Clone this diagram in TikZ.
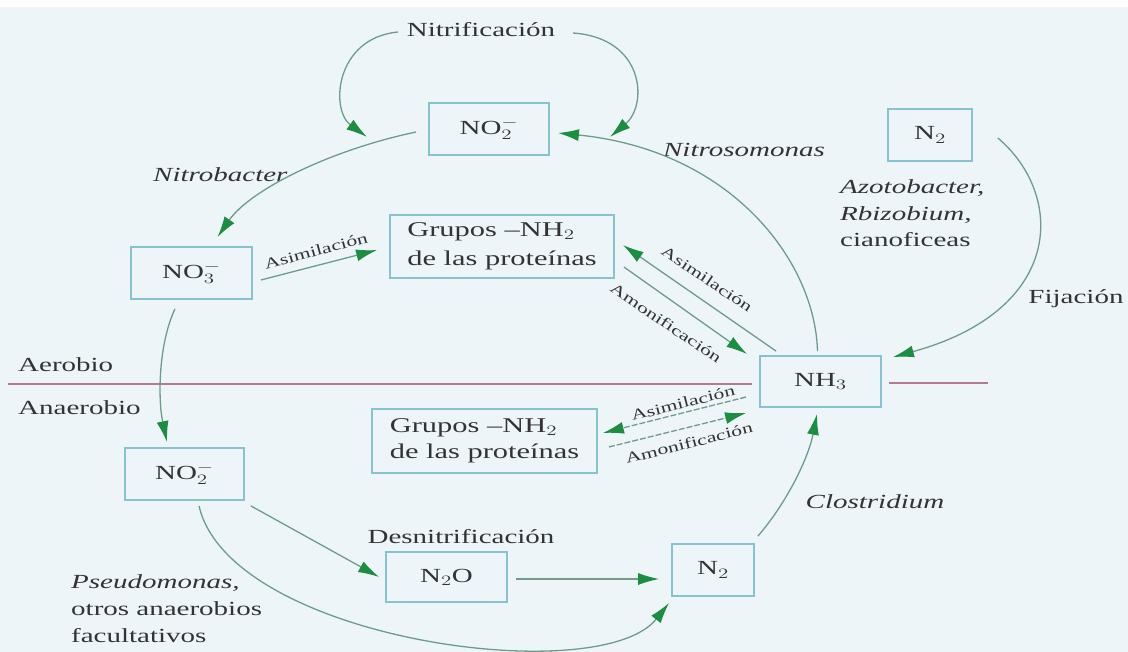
\documentclass[tikz,border=0pt]{standalone}
\usepackage{fontspec}
\setmainfont{Liberation Serif}
\usetikzlibrary{arrows.meta,calc}
\definecolor{bgc}{HTML}{EEF5F9}
\definecolor{boxc}{HTML}{86C3CC}
\definecolor{linec}{HTML}{6E9C88}
\definecolor{arrc}{HTML}{1B8E42}
\definecolor{txtc}{HTML}{333333}
\definecolor{aerc}{HTML}{B27B93}
\newcommand\sx[1]{\scalebox{1.45}[1]{#1}}
\begin{document}
\begin{tikzpicture}[x=1pt,y=-1pt,
  box/.style={draw=boxc,line width=1.8pt,fill=bgc,inner sep=0pt,text=txtc,font=\fontsize{20}{24}\selectfont},
  gbox/.style={box,align=left,font=\fontsize{21}{29}\selectfont},
  lab/.style={text=txtc,inner sep=0pt,font=\fontsize{20}{27}\selectfont},
  ilab/.style={text=txtc,inner sep=0pt,font=\fontsize{20}{27}\selectfont\itshape},
  slab/.style={text=txtc,inner sep=0pt,font=\fontsize{15}{18}\selectfont},
  conn/.style={draw=linec,line width=1.3pt,-{Latex[length=21pt,width=12pt,color=arrc]}},
  divline/.style={draw=aerc,line width=1.4pt}]
\useasboundingbox (0,0) rectangle (1128,652);
\fill[white] (0,0) rectangle (1128,652);
\fill[bgc] (0,7) rectangle (1128,652);

% boxes
\node[box,minimum width=120pt,minimum height=52pt] (no2t) at (489,129) {\sx{NO$^-_2$}};
\node[box,minimum width=84pt,minimum height=52pt] (n2t) at (930,135) {\sx{N$_2$}};
\node[box,minimum width=121pt,minimum height=52pt] (no3) at (191.5,273) {\sx{NO$^-_3$}};
\node[gbox,minimum width=224pt,minimum height=63pt] (g1) at (502,246.5) {\sx{Grupos –NH$_2$}\\\sx{de las proteínas}};
\node[box,minimum width=121pt,minimum height=51pt] (nh3) at (820.5,381.5) {\sx{NH$_3$}};
\node[gbox,minimum width=225pt,minimum height=64pt,font=\fontsize{21}{26}\selectfont] (g2) at (484.5,441) {\sx{Grupos –NH$_2$}\\\sx{de las proteínas}};
\node[box,minimum width=119pt,minimum height=52pt] (no2b) at (184.5,474) {\sx{NO$^-_2$}};
\node[box,minimum width=121pt,minimum height=50pt] (n2o) at (446.5,577) {\sx{N$_2$O}};
\node[box,minimum width=82pt,minimum height=52pt] (n2b) at (713,570) {\sx{N$_2$}};

% labels
\node[lab] (nitrif) at (481,30) {\sx{Nitrificación}};
\node[ilab,anchor=east] (nitroso) at (825,150) {\sx{Nitrosomonas}};
\node[ilab,anchor=west] (nitrobac) at (153,175) {\sx{Nitrobacter}};
\node[lab,anchor=west,align=left,font=\fontsize{20}{26.5}\selectfont] (azoto) at (840,213.5) {\sx{\itshape Azotobacter,}\\\sx{\itshape Rbizobium,}\\\sx{cianoficeas}};
\node[lab] (fij) at (1076,299) {\sx{Fijación}};
\node[lab,anchor=west] (aer) at (18,365) {\sx{Aerobio}};
\node[lab,anchor=west] (anaer) at (18,408) {\sx{Anaerobio}};
\node[lab] (desn) at (461,537) {\sx{Desnitrificación}};
\node[ilab] (clos) at (875,502) {\sx{Clostridium}};
\node[lab,anchor=west,align=left] (pseudo) at (71,609) {\sx{\itshape Pseudomonas,}\\\sx{otros anaerobios}\\\sx{facultativos}};

\node[slab,rotate=15] (asA) at (316,251) {\sx{Asimilación}};
\node[slab,rotate=-34] (asB) at (707,279) {\sx{Asimilación}};
\node[slab,rotate=-34] (amB) at (666,323) {\sx{Amonificación}};
\node[slab,rotate=14] (asC) at (683,403) {\sx{Asimilación}};
\node[slab,rotate=14] (amC) at (689,443) {\sx{Amonificación}};

% aerobic / anaerobic divider
\coordinate (divL) at (8,384);
\coordinate (divR) at (988,383);
\draw[divline] (divL) -- ($(nh3.west)+(-7,2.5)$);
\draw[divline] ($(nh3.east)+(7,1.5)$) -- (divR);

% connectors
\draw[conn] ($(nitrif)+(-83,2)$) .. controls (335,38) and (330,110) .. ($(no2t)+(-122,8)$);
\draw[conn] ($(nitrif)+(92,3)$) .. controls (645,38) and (648,105) .. ($(no2t)+(121,8)$);
\draw[conn] ($(nh3.north)+(-3,-4)$) .. controls (815,260) and (730,150) .. ($(no2t.east)+(8,4)$);
\draw[conn] ($(no2t.west)+(-12,3)$) .. controls (330,150) and (250,190) .. ($(no3.north)+(26,-9)$);
\draw[conn] ($(no3.east)+(8,7)$) -- ($(g1.west)+(-12,3.5)$);
\draw[conn] ($(nh3.north west)+(17,-4)$) -- ($(g1.east)+(8,-1.5)$);
\draw[conn] ($(g1.east)+(9,20.5)$) -- ($(nh3.north west)+(-12,-1)$);
\draw[conn] ($(n2t.east)+(25,3)$) .. controls (1065,195) and (1065,310) .. ($(nh3.north east)+(11,2)$);
\draw[conn] ($(no3.south)+(-16.5,9)$) .. controls (158,345) and (158,400) .. ($(no2b.north)+(-17.5,-5)$);
\draw[conn] ($(no2b.south east)+(6,5)$) -- ($(n2o.west)+(-6,0)$);
\draw[conn] ($(n2o.east)+(8,2)$) -- ($(n2b.west)+(-12,9)$);
\draw[conn] ($(no2b.south)+(14.5,5)$) .. controls (230,640) and (600,690) .. ($(n2b.south west)+(-2,6)$);
\draw[conn] ($(n2b.north east)+(3,-7)$) .. controls (785,505) and (808,460) .. ($(nh3.south)+(-3.5,6)$);
\draw[conn,dash pattern=on 6pt off 2pt] ($(nh3.west)+(-13,15.5)$) -- ($(g2.east)+(5,-8)$);
\draw[conn,dash pattern=on 6pt off 2pt] ($(g2.east)+(11,6)$) -- ($(nh3.west)+(-13,31.5)$);
\end{tikzpicture}
\end{document}
